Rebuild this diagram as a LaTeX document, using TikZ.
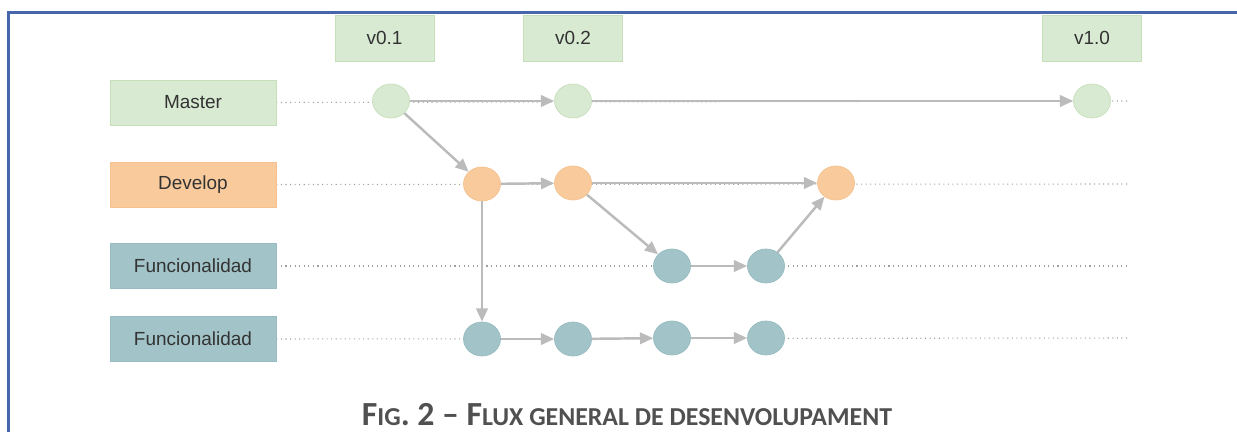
\documentclass[tikz,border=0pt]{standalone}
\usepackage{fontspec}
\setmainfont{Liberation Sans}
\newfontfamily\capfont{Carlito}
\usepackage{xcolor}
\usetikzlibrary{backgrounds, shapes.geometric, positioning, arrows.meta}

\definecolor{greenfill}{HTML}{D9EAD3}
\definecolor{greenline}{HTML}{C6DFBB}
\definecolor{orangefill}{HTML}{F9CB9C}
\definecolor{orangeline}{HTML}{F5C18F}
\definecolor{tealfill}{HTML}{A2C4C9}
\definecolor{tealline}{HTML}{97BCC1}
\definecolor{arrowgray}{HTML}{BBBBBB}
\definecolor{dotgray}{HTML}{9E9E9E}
\definecolor{framblue}{HTML}{4866AC}
\definecolor{capgray}{HTML}{505050}

\newcommand{\capbig}[1]{{\fontsize{19.2}{20}\selectfont #1}}
\newcommand{\capsmall}[1]{{\fontsize{14.7}{16}\selectfont #1}}

\begin{document}
\begin{tikzpicture}[x=0.02cm, y=-0.02cm,
    label_box/.style={rectangle, fill=#1fill, draw=#1line, minimum width=3.32cm, minimum height=0.9cm, font=\fontsize{10.8}{12}\selectfont, text=black!80},
    tag_box/.style={rectangle, fill=greenfill, draw=greenline, minimum width=1.98cm, minimum height=0.92cm, font=\fontsize{10.8}{12}\selectfont, text=black!80},
    commit/.style={ellipse, fill=#1fill, draw=#1line, minimum width=0.74cm, minimum height=0.68cm, inner sep=0pt},
    arrow_style/.style={draw=arrowgray, line width=1.4pt, -{Triangle[length=7.5pt, width=6.5pt]}},
    dot_style/.style={draw=dotgray, dotted, line width=0.6pt}
]

\pgfdeclarelayer{bg}    % layer for the dotted guide lines
\pgfsetlayers{bg,main}

\useasboundingbox (0,0) rectangle (1237,432);

% Frame
\draw[framblue, line width=2pt] (1237,12.5) -- (8.5,12.5) -- (8.5,432);

% Branch labels
\node[label_box=green] (lmaster) at (193,102.5) {Master};
\node[label_box=orange] (ldevelop) at (193,184.5) {Develop};
\node[label_box=teal] (lfeat1) at (193,266) {Funcionalidad};
\node[label_box=teal] (lfeat2) at (193,339) {Funcionalidad};

% Master commits
\node[commit=green] (m1) at (391,101) {};
\node[commit=green] (m2) at (573,101) {};
\node[commit=green] (m3) at (1092,101) {};

% Develop commits
\node[commit=orange] (d1) at (482,184) {};
\node[commit=orange] (d2) at (573,183) {};
\node[commit=orange] (d3) at (836,183) {};

% Feature commits
\node[commit=teal] (f1) at (672,266) {};
\node[commit=teal] (f2) at (766,266) {};

\node[commit=teal] (g1) at (482,339) {};
\node[commit=teal] (g2) at (573,339) {};
\node[commit=teal] (g3) at (672,338) {};
\node[commit=teal] (g4) at (766,338) {};

% Version tags
\node[tag_box, above=0.44cm of m1, xshift=-0.13cm] (v01) {v0.1};
\node[tag_box, above=0.44cm of m2] (v02) {v0.2};
\node[tag_box, above=0.44cm of m3] (v10) {v1.0};

% Dotted guide lines behind the commits
\coordinate (emaster) at (1127,101);
\coordinate (edevelop) at (1127,184);
\coordinate (efeat1) at (1127,266);
\coordinate (efeat2) at (1130,338);
\begin{pgfonlayer}{bg}
    \draw[dot_style] (lmaster.east) -- (emaster);
    \draw[dot_style] (ldevelop.east) -- (edevelop);
    \draw[dot_style] (lfeat1.east) -- (efeat1);
    \draw[dot_style] (lfeat2.east) -- (efeat2);
\end{pgfonlayer}

% Arrows between commits
\draw[arrow_style] (m1) -- (m2);
\draw[arrow_style] (m2) -- (m3);
\draw[arrow_style] (m1) -- (d1);
\draw[arrow_style] (d1) -- (d2);
\draw[arrow_style] (d2) -- (d3);
\draw[arrow_style] (d1) -- (g1);
\draw[arrow_style] (d2) -- (f1);
\draw[arrow_style] (f1) -- (f2);
\draw[arrow_style] (f2) -- (d3);
\draw[arrow_style] (g1) -- (g2);
\draw[arrow_style] (g2) -- (g3);
\draw[arrow_style] (g3) -- (g4);

% Caption
\node[anchor=base, text=capgray, font=\capfont\bfseries, inner sep=0pt] (caption) at (627,425)
    {\capbig{F}\capsmall{IG}\capbig{. 2 – F}\capsmall{LUX GENERAL DE DESENVOLUPAMENT}};

\end{tikzpicture}
\end{document}
